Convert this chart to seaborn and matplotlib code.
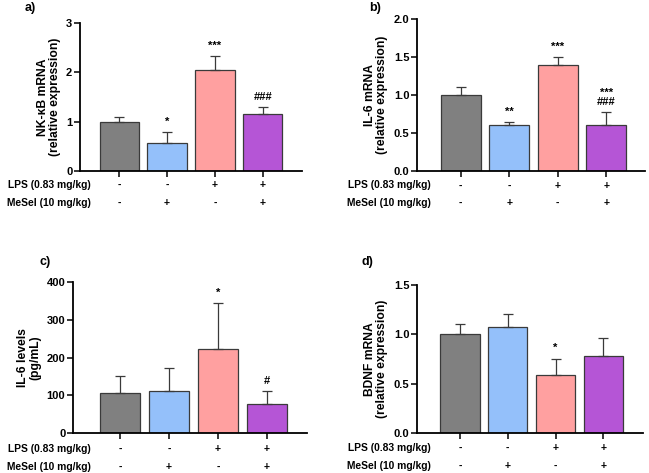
import matplotlib
matplotlib.use("Agg")
import matplotlib.pyplot as plt
import matplotlib.transforms as mtransforms
import numpy as np
import pandas as pd
import seaborn as sns

# grupos: control, MeSel, LPS, LPS+MeSel
groups = ["Control", "MeSel", "LPS", "LPS+MeSel"]
lps_row = ["-", "-", "+", "+"]
mesel_row = ["-", "+", "-", "+"]
colors = ["#808080", "#94c0fa", "#ffa0a0", "#b555d6"]

nfkb_mean = [1.0, 0.56, 2.05, 1.16]
nfkb_sem = [0.10, 0.23, 0.29, 0.14]
nfkb_sig = ["", "*", "***", "###"]

il6_mrna_mean = [1.0, 0.60, 1.40, 0.61]
il6_mrna_sem = [0.10, 0.045, 0.095, 0.16]
il6_mrna_sig = ["", "**", "***", "***\n###"]

il6_prot_mean = [105, 110, 222, 76]
il6_prot_sem = [47, 62, 123, 35]
il6_prot_sig = ["", "", "*", "#"]

bdnf_mean = [1.0, 1.07, 0.585, 0.78]
bdnf_sem = [0.10, 0.14, 0.17, 0.18]
bdnf_sig = ["", "", "*", ""]

plt.rcParams["font.family"] = ["Liberation Sans", "DejaVu Sans"]
plt.rcParams["font.weight"] = "bold"

W, H = 649, 473
fig = plt.figure(figsize=(W / 100, H / 100), dpi=100)


def make_axes(left, right, top, bottom):
    return fig.add_axes([left / W, (H - bottom) / H, (right - left) / W, (bottom - top) / H])


def panel(ax, means, sems, sig, ylim, yticks, yfmt, ylabel, xlim, letter, letter_xy,
          row_right, row_y):
    df = pd.DataFrame({"group": groups, "value": means})
    sns.barplot(data=df, x="group", y="value", hue="group", palette=colors, saturation=1,
                width=0.82, edgecolor="#3a3a3a", linewidth=0.9, legend=False, ax=ax)
    x = np.arange(len(groups))
    ax.errorbar(x, means, yerr=[np.zeros(len(sems)), sems], fmt="none",
                ecolor="#3a3a3a", elinewidth=0.9, capsize=3.5, capthick=0.9, zorder=1)
    top = np.array(means) + np.array(sems)
    span = ylim[1] - ylim[0]
    for xi, t, s in zip(x, top, sig):
        if s:
            ax.text(xi, t + span * 0.035, s, ha="center", va="bottom",
                    fontsize=8, fontweight="bold", linespacing=0.9)
    ax.set_xlim(*xlim)
    ax.set_ylim(*ylim)
    ax.set_yticks(yticks)
    ax.set_yticklabels([yfmt.format(v) for v in yticks])
    ax.set_xticks(x)
    ax.set_xticklabels([])
    ax.set_xlabel("")
    ax.set_ylabel(ylabel, fontsize=8.7, fontweight="bold", linespacing=1.0, labelpad=4)
    ax.spines[["top", "right"]].set_visible(False)
    ax.spines[["left", "bottom"]].set_linewidth(1.3)
    ax.tick_params(axis="both", length=4, width=1.1, labelsize=8, pad=1.5)
    trans = mtransforms.blended_transform_factory(ax.transData, fig.transFigure)
    y1 = 1 - row_y[0] / H
    y2 = 1 - row_y[1] / H
    for xi, a, b in zip(x, lps_row, mesel_row):
        ax.text(xi, y1, a, transform=trans, ha="center", va="center", fontsize=7.5)
        ax.text(xi, y2, b, transform=trans, ha="center", va="center", fontsize=7.5)
    fig.text(row_right / W, y1, "LPS (0.83 mg/kg)", ha="right", va="center", fontsize=7.4)
    fig.text(row_right / W, y2, "MeSel (10 mg/kg)", ha="right", va="center", fontsize=7.4)
    fig.text(letter_xy[0] / W, 1 - letter_xy[1] / H, letter, fontsize=9,
             fontweight="bold", ha="left", va="center")


ax_a = make_axes(80, 302, 23, 171)
panel(ax_a, nfkb_mean, nfkb_sem, nfkb_sig, (0, 3), [0, 1, 2, 3], "{:.0f}",
      "NK-κB mRNA\n(relative expression)", (-0.82, 3.82), "a)", (25, 8),
      91, (185, 203))

ax_b = make_axes(417, 645, 19, 171)
panel(ax_b, il6_mrna_mean, il6_mrna_sem, il6_mrna_sig, (0, 2), [0, 0.5, 1.0, 1.5, 2.0], "{:.1f}",
      "IL-6 mRNA\n(relative expression)", (-0.90, 3.8), "b)", (369, 8),
      431, (185.5, 203))

ax_c = make_axes(73, 307, 282, 433)
panel(ax_c, il6_prot_mean, il6_prot_sem, il6_prot_sig, (0, 400), [0, 100, 200, 300, 400], "{:.0f}",
      "IL-6 levels\n(pg/mL)", (-0.96, 3.82), "c)", (39, 262),
      91, (449, 466.5))

ax_d = make_axes(417, 643, 285, 433)
panel(ax_d, bdnf_mean, bdnf_sem, bdnf_sig, (0, 1.5), [0, 0.5, 1.0, 1.5], "{:.1f}",
      "BDNF mRNA\n(relative expression)", (-0.90, 3.83), "d)", (362, 262),
      431, (448, 466))

fig.savefig("out.png", dpi=100)
